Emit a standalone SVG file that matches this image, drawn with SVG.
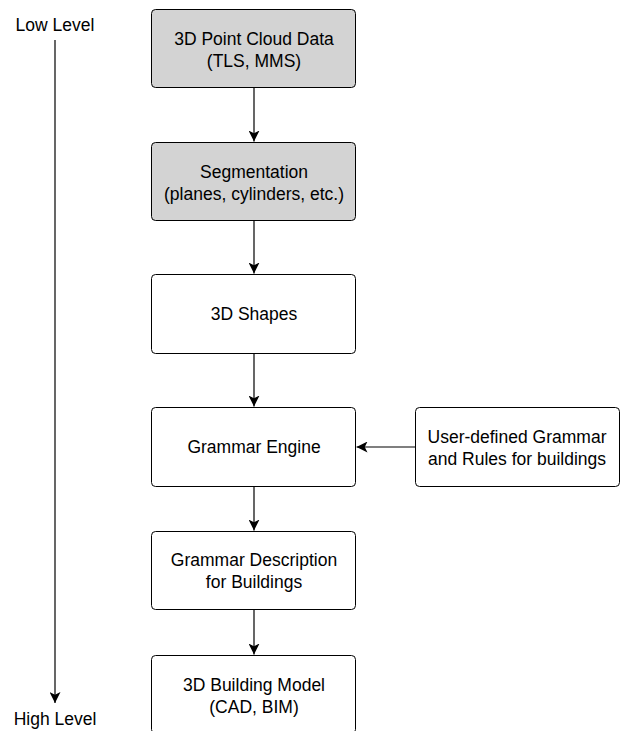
<svg xmlns="http://www.w3.org/2000/svg" width="622" height="731" viewBox="0 0 622 731">
<defs>
<marker id="ah" viewBox="0 0 10 10" refX="10" refY="5" markerWidth="11" markerHeight="11" markerUnits="userSpaceOnUse" orient="auto">
<path d="M0,0 L10,5 L0,10 L2.5,5 Z" fill="#000"/>
</marker>
<style>
.box{fill:#fff;stroke:#000;stroke-width:1}
.grey{fill:#d3d3d3}
text{font-family:"Liberation Sans",Arial,sans-serif;font-size:17.5px;fill:#000;text-anchor:middle}
.c{stroke:#000;stroke-width:1.2;fill:none;marker-end:url(#ah)}
</style>
</defs>
<rect width="622" height="731" fill="#fff"/>
<g id="axis">
<text x="55" y="31">Low Level</text>
<line class="c" x1="55" y1="40" x2="55" y2="703"/>
<text x="55" y="725">High Level</text>
</g>
<g id="connectors">
<line class="c" x1="254" y1="87.5" x2="254" y2="141.5"/>
<line class="c" x1="254" y1="220.5" x2="254" y2="273.5"/>
<line class="c" x1="254" y1="353.5" x2="254" y2="406.5"/>
<line class="c" x1="254" y1="486.5" x2="254" y2="530.5"/>
<line class="c" x1="254" y1="609.5" x2="254" y2="654.5"/>
<line class="c" x1="415.5" y1="447" x2="356.5" y2="447"/>
</g>
<g id="n1">
<rect class="box grey" x="151.5" y="9.5" width="204" height="78" rx="4"/>
<text x="254" y="45">3D Point Cloud Data</text>
<text x="254" y="67">(TLS, MMS)</text>
</g>
<g id="n2">
<rect class="box grey" x="151.5" y="142.5" width="204" height="78" rx="4"/>
<text x="254" y="178">Segmentation</text>
<text x="254" y="200">(planes, cylinders, etc.)</text>
</g>
<g id="n3">
<rect class="box" x="151.5" y="274.5" width="204" height="79" rx="4"/>
<text x="254" y="320">3D Shapes</text>
</g>
<g id="n4">
<rect class="box" x="151.5" y="407.5" width="204" height="79" rx="4"/>
<text x="254" y="453">Grammar Engine</text>
</g>
<g id="n5">
<rect class="box" x="415.5" y="407.5" width="204" height="79" rx="4"/>
<text x="517" y="443">User-defined Grammar</text>
<text x="517" y="465">and Rules for buildings</text>
</g>
<g id="n6">
<rect class="box" x="151.5" y="531.5" width="204" height="78" rx="4"/>
<text x="254" y="566">Grammar Description</text>
<text x="254" y="588">for Buildings</text>
</g>
<g id="n7">
<rect class="box" x="151.5" y="655.5" width="204" height="78" rx="4"/>
<text x="254" y="691">3D Building Model</text>
<text x="254" y="713">(CAD, BIM)</text>
</g>
</svg>
